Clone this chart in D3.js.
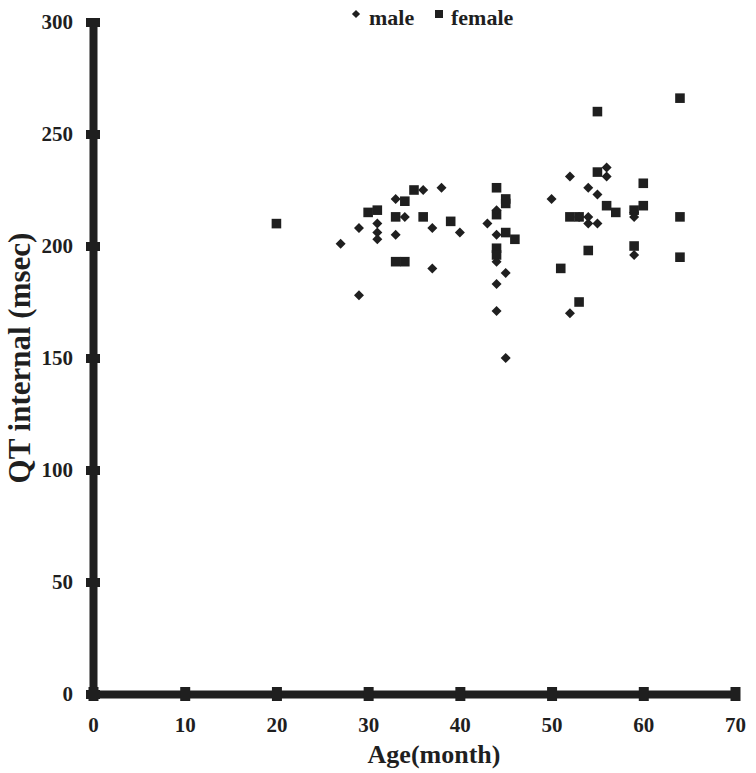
<!DOCTYPE html>
<html>
<head>
<meta charset="utf-8">
<script src="https://cdn.jsdelivr.net/npm/d3@7"></script>
<style>
  body { margin: 0; background: #fff; }
  text { font-family: "Liberation Serif", "Times New Roman", serif; font-weight: bold; fill: #1f1f1f; }
</style>
</head>
<body>
<div class="chart"></div>
<script>
// age (month) and QT interval (msec)
var maleAge = [27, 29, 29, 31, 31, 31, 33, 33, 34, 36, 37, 37, 38, 40,
               43, 44, 44, 44, 44, 44, 45, 45,
               50, 52, 52, 53, 54, 54, 54, 55, 55, 56, 56, 59, 59, 59];
var maleQT  = [201, 208, 178, 210, 206, 203, 221, 205, 213, 225, 208, 190, 226, 206,
               210, 216, 205, 193, 183, 171, 188, 150,
               221, 231, 170, 213, 226, 213, 210, 223, 210, 235, 231, 215, 213, 196];

var femaleAge = [20, 30, 31, 33, 33, 34, 34, 35, 36, 39,
                 44, 44, 44, 44, 45, 45, 45, 46,
                 51, 52, 53, 53, 54, 55, 55, 56, 57, 59, 59, 60, 60, 64, 64, 64];
var femaleQT  = [210, 215, 216, 213, 193, 193, 220, 225, 213, 211,
                 226, 214, 199, 196, 221, 219, 206, 203,
                 190, 213, 213, 175, 198, 260, 233, 218, 215, 216, 200, 228, 218, 266, 213, 195];

var xTicks = [0, 10, 20, 30, 40, 50, 60, 70];
var yTicks = [0, 50, 100, 150, 200, 250, 300];

var width = 756, height = 773;
var ink = "#1f1f1f";

var svg = d3.select(".chart").append("svg")
    .attr("width", width)
    .attr("height", height);

var x = d3.scaleLinear().domain([0, 70]).range([93, 735]);
var y = d3.scaleLinear().domain([0, 300]).range([694, 22]);

// x axis
var gx = svg.append("g")
    .attr("transform", "translate(0," + y(0) + ")")
    .call(d3.axisBottom(x).tickValues(xTicks).tickSizeOuter(0).tickSizeInner(7));
gx.select(".domain").attr("stroke", ink).attr("stroke-width", 8);
gx.selectAll(".tick line").attr("y1", -7).attr("y2", 7)
    .attr("stroke", ink).attr("stroke-width", 10);
gx.selectAll(".tick text").attr("y", 23).attr("dy", "0.71em")
    .style("font-size", "21px").attr("fill", ink);

// y axis
var gy = svg.append("g")
    .attr("transform", "translate(" + x(0) + ",0)")
    .call(d3.axisLeft(y).tickValues(yTicks).tickSizeOuter(0).tickSizeInner(7));
gy.select(".domain").attr("stroke", ink).attr("stroke-width", 8);
gy.selectAll(".tick line").attr("x1", 7).attr("x2", -7)
    .attr("stroke", ink).attr("stroke-width", 9);
gy.selectAll(".tick text").attr("x", -20)
    .style("font-size", "21px").attr("fill", ink);

// axis titles
svg.append("text")
    .attr("x", 434).attr("y", 763)
    .attr("text-anchor", "middle")
    .style("font-size", "26px")
    .text("Age(month)");

svg.append("text")
    .attr("transform", "translate(30,358) rotate(-90)")
    .attr("text-anchor", "middle")
    .style("font-size", "31px")
    .text("QT internal (msec)");

// points
var diamond = d3.symbol().type(d3.symbolSquare).size(50);
var square = d3.symbol().type(d3.symbolSquare).size(92);

svg.append("g").selectAll("path")
    .data(femaleAge)
    .enter().append("path")
    .attr("d", square)
    .attr("transform", function (d, i) { return "translate(" + x(d) + "," + y(femaleQT[i]) + ")"; })
    .attr("fill", ink);

svg.append("g").selectAll("path")
    .data(maleAge)
    .enter().append("path")
    .attr("d", diamond)
    .attr("transform", function (d, i) { return "translate(" + x(d) + "," + y(maleQT[i]) + ") rotate(45)"; })
    .attr("fill", ink);

// legend
var legend = svg.append("g");
legend.append("path")
    .attr("d", d3.symbol().type(d3.symbolSquare).size(34))
    .attr("transform", "translate(356,14) rotate(45)")
    .attr("fill", ink);
legend.append("text").attr("x", 369).attr("y", 25)
    .style("font-size", "22px").text("male");
legend.append("path")
    .attr("d", d3.symbol().type(d3.symbolSquare).size(64))
    .attr("transform", "translate(439,14)")
    .attr("fill", ink);
legend.append("text").attr("x", 451).attr("y", 25)
    .style("font-size", "22px").text("female");
</script>
</body>
</html>
